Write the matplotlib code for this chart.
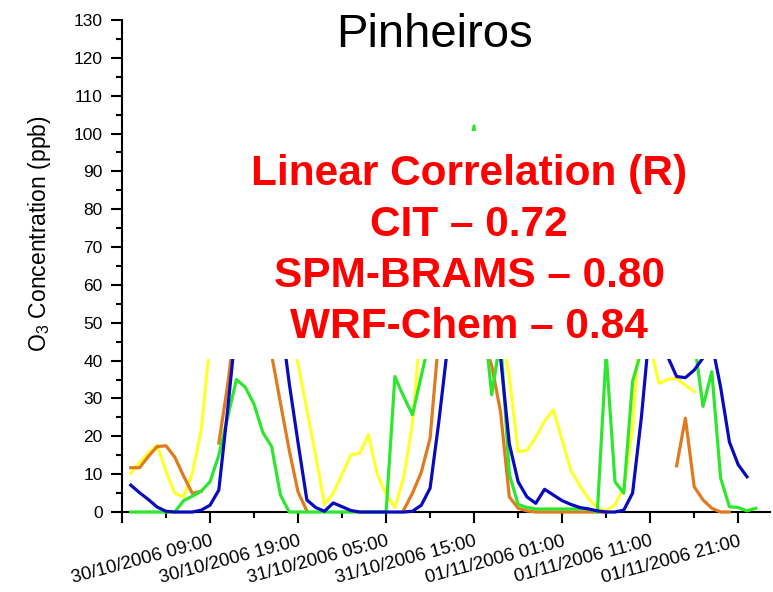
import numpy as np
import matplotlib
matplotlib.use('Agg')
import matplotlib.pyplot as plt
from matplotlib.ticker import MultipleLocator
from matplotlib.patches import Rectangle
from datetime import datetime, timedelta

plt.rcParams['font.family'] = ['Liberation Sans', 'DejaVu Sans']
plt.rcParams['mathtext.fontset'] = 'custom'
plt.rcParams['mathtext.rm'] = 'Liberation Sans'
plt.rcParams['mathtext.it'] = 'Liberation Sans:italic'

nan = np.nan

# hourly O3 (ppb) starting 30/10/2006 00:00
start = datetime(2006, 10, 30, 0, 0)
hours = np.arange(72)

yellow = [10.2, 13.0, 15.6, 17.7, 10.7, 5.0, 4.0, 10.3, 21.7, 45.0,
          62.0, 72.0, 80.0, 84.0, 83.0, 78.0, 68.0, 58.0, 48.0, 39.2,
          27.0, 15.0, 2.0, 4.9, 9.9, 15.1, 15.5, 20.4, 10.0, 4.7,
          1.2, 9.1, 23.4, 51.0, 62.0, 72.0, 80.0, 85.0, 86.0, 82.0,
          75.0, 62.0, 50.0, 35.6, 16.0, 16.3, 19.7, 24.0, 27.0, 19.0,
          11.0, 7.0, 3.5, 1.2, 0.2, 2.0, 6.3, 22.0, 55.0, 44.0,
          34.0, 35.0, 35.4, 33.5, 31.8, nan, nan, nan, nan, nan,
          nan, nan]

orange = [11.7, 11.7, 14.7, 17.3, 17.5, 14.5, 9.5, 4.9, 5.5, nan,
          18.2, 33.5, 52.0, 62.0, 68.0, 60.0, 41.5, 28.8, 16.3, 5.3,
          0.3, nan, nan, nan, nan, nan, nan, nan, nan, nan,
          nan, 0.5, 5.0, 10.5, 19.5, 46.5, 60.0, 72.0, 78.0, 76.0,
          45.2, 38.7, 26.5, 4.0, 1.0, 0.3, 0.0, 0.0, 0.0, 0.0,
          0.0, 0.0, 0.0, 0.0, 0.0, nan, nan, nan, nan, nan,
          nan, nan, 12.2, 24.8, 6.7, 3.2, 1.0, 0.0, 0.0, nan,
          nan, nan]

green = [0.0, 0.0, 0.0, 0.0, 0.0, 0.0, 3.0, 4.2, 5.5, 8.0,
         15.0, 25.0, 35.0, 33.0, 28.5, 21.0, 17.3, 4.5, 0.0, 0.0,
         0.0, 0.0, 0.0, 0.0, 0.0, 0.0, 0.0, 0.0, 0.0, 0.0,
         35.8, 30.5, 25.7, 36.0, 46.0, 60.0, 75.0, 85.0, 90.0, 102.0,
         53.5, 31.0, 46.0, 10.0, 2.0, 1.2, 0.8, 0.8, 0.8, 0.8,
         0.8, 0.8, 0.8, 0.0, 42.0, 8.0, 5.0, 34.5, 42.6, 70.0,
         80.0, 85.0, 82.0, 70.0, 45.2, 27.9, 37.1, 9.0, 1.4, 1.2,
         0.3, 1.0]

blue = [7.1, 5.1, 3.3, 1.3, 0.2, 0.0, 0.0, 0.0, 0.5, 1.8,
        5.8, 27.0, 50.0, 62.0, 70.0, 72.0, 66.0, 52.0, 34.0, 18.3,
        3.2, 1.2, 0.2, 2.4, 1.4, 0.4, 0.0, 0.0, 0.0, 0.0,
        0.0, 0.0, 0.2, 1.8, 6.3, 24.0, 44.0, 60.0, 72.0, 80.0,
        75.0, 58.0, 41.0, 18.0, 8.0, 4.0, 2.3, 6.0, 4.5, 3.0,
        2.0, 1.2, 0.8, 0.3, 0.0, 0.0, 0.5, 5.0, 25.0, 50.0,
        52.0, 41.0, 35.8, 35.5, 37.5, 40.7, 44.7, 33.0, 18.5, 12.5,
        9.3, nan]

correlations = [('CIT', 0.72), ('SPM-BRAMS', 0.80), ('WRF-Chem', 0.84)]

fig = plt.figure(figsize=(7.73, 5.92), dpi=100)
ax = fig.add_axes([0.1578, 0.1351, 0.8382, 0.8311])

for series, col in [(yellow, '#ffff2e'), (orange, '#e07a1f'),
                    (green, '#2ee62e'), (blue, '#0a0abf')]:
    ax.plot(hours, series, color=col, lw=2.3, zorder=3, clip_on=False)

# white panel behind the correlation text
ax.add_patch(Rectangle((1, 40.3), 73, 60.3, facecolor='white',
                       edgecolor='none', zorder=4, clip_on=False))

ax.set_xlim(-1, 72.6)
ax.set_ylim(0, 130)

for side in ['top', 'right']:
    ax.spines[side].set_visible(False)
for side in ['left', 'bottom']:
    ax.spines[side].set_linewidth(1.5)
    ax.spines[side].set_zorder(2)

ax.yaxis.set_major_locator(MultipleLocator(10))
ax.yaxis.set_minor_locator(MultipleLocator(5))

# ticks every 10 h from 29/10 23:00, first one unlabelled
xticks = np.arange(-1, 73, 10)
xlabels = ['' if h < 0 else
           (start + timedelta(hours=int(h))).strftime('%d/%m/%Y %H:%M')
           for h in xticks]
ax.set_xticks(xticks)
ax.set_xticklabels(xlabels, rotation=15, ha='right', va='top',
                   rotation_mode='anchor', fontsize=13.4)
ax.set_xticks(np.arange(4, 73, 10), minor=True)

ax.tick_params(which='major', length=8, width=1.5)
ax.tick_params(which='minor', length=4, width=1.5)
ax.tick_params(axis='y', labelsize=12.5, pad=6)
ax.tick_params(axis='x', pad=7)

ax.set_ylabel(r'O$_3$ Concentration (ppb)', fontsize=16.5)
ax.yaxis.set_label_coords(-0.107, 0.565)

fig.text(434 / 773, 1 - 35 / 592, 'Pinheiros', ha='center', va='center',
         fontsize=34)

lines = ['Linear Correlation (R)'] + [f'{m} \u2013 {r:.2f}' for m, r in correlations]
for i, txt in enumerate(lines):
    fig.text(469 / 773, 1 - (185 + 51 * i) / 592, txt, ha='center',
             va='baseline', fontsize=30.5, fontweight='bold', color='red',
             zorder=5)

fig.savefig('out.png', dpi=100)
